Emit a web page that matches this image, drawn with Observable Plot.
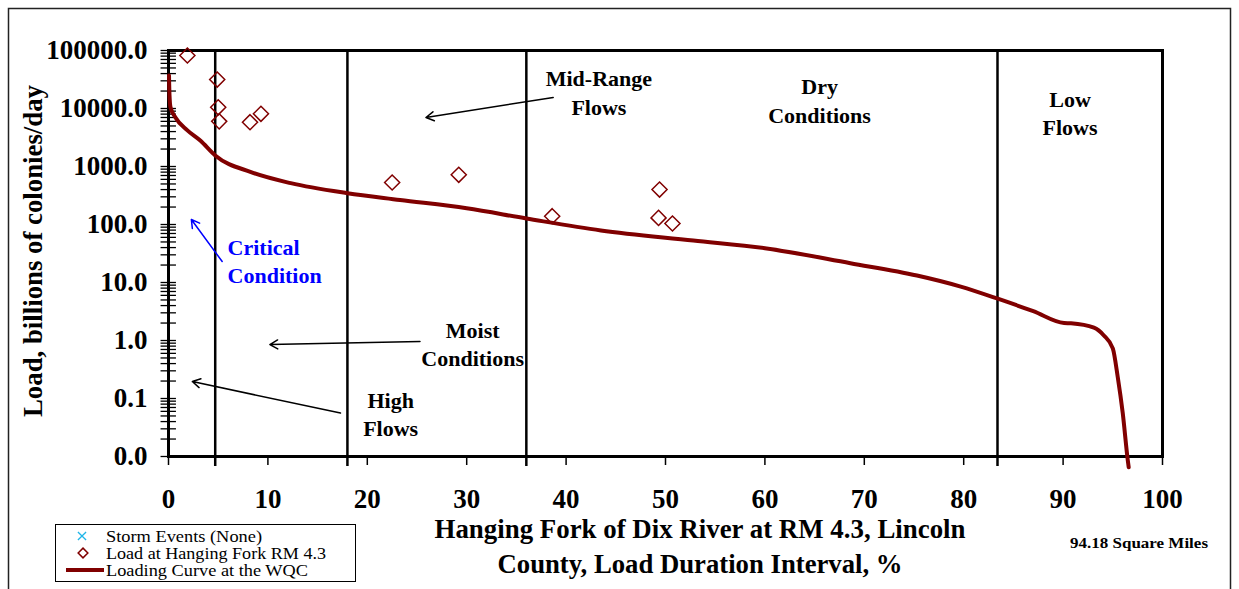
<!DOCTYPE html>
<html><head><meta charset="utf-8">
<script src="https://cdn.jsdelivr.net/npm/d3@7"></script>
<script src="https://cdn.jsdelivr.net/npm/@observablehq/plot@0.6"></script>
<style>body{margin:0;background:#fff} #chart{width:1239px;height:589px}</style>
</head><body><div id="chart"></div>
<script>
// Loading curve at the WQC (duration interval %, load)
const curvePct  = [0.05, 0.1, 0.2, 0.7, 1.9, 3.2, 4.7, 8.3, 12.3, 18, 23.3, 30, 36, 43.5, 52.8, 60, 68.6, 75.3, 79.7, 83.5, 87, 90.1, 90.8, 93.1, 94.1, 95.0, 95.5, 96.0, 96.5, 96.6];
const curveLoad = [37000, 17000, 10500, 7000, 4200, 2800, 1550, 800, 516, 347, 265, 190, 127, 79, 53, 39, 21.5, 13.2, 8.5, 5.2, 3.2, 2.0, 1.98, 1.66, 1.22, 0.73, 0.233, 0.056, 0.0088, 0.0065];
// Load at Hanging Fork RM 4.3 (samples)
const samplePct  = [1.9, 4.9, 5.0, 5.1, 8.2, 9.3, 22.5, 29.2, 38.6, 49.4, 49.3, 50.7];
const sampleLoad = [82000, 31600, 10500, 6000, 5800, 8100, 530, 720, 139, 400, 130, 104];
// Flow zone boundaries
const zoneBounds = [4.7, 18, 36, 83.4];
// Ticks
const yTickValues = [0.01, 0.1, 1, 10, 100, 1000, 10000, 100000];
const xTickValues = [0, 10, 20, 30, 40, 50, 60, 70, 80, 90, 100];
// Annotations
const noteText  = ["Mid-Range\nFlows", "Dry\nConditions", "Low\nFlows", "Critical\nCondition", "Moist\nConditions", "High\nFlows"];
const noteX     = [43.3, 65.5, 90.7, 5.94, 30.6, 22.35];
const noteY     = [19600, 14300, 8700, 24.4, 0.906, 0.0562];
const noteAnchor= ["middle", "middle", "middle", "start", "middle", "middle"];
const noteColor = ["black", "black", "black", "#0000ff", "black", "black"];
const arrowX1 = [38.7, 5.4, 25.3, 17.3];
const arrowY1 = [15500, 23, 0.96, 0.056];
const arrowX2 = [25.9, 2.3, 10.2, 2.4];
const arrowY2 = [7000, 122, 0.85, 0.196];
const arrowColor = ["black", "#0000ff", "black", "black"];
const legendLabels = ["Storm Events (None)", "Load at Hanging Fork RM 4.3", "Loading Curve at the WQC"];
const legendWidths = [156, 220, 202];
const xTitle = ["Hanging Fork of Dix River at RM 4.3, Lincoln", "County, Load Duration Interval, %"];
const yTitle = "Load, billions of colonies/day";
const areaNote = "94.18 Square Miles";

const curve = curvePct.map((x, i) => ({x, y: curveLoad[i]}));
const samples = samplePct.map((x, i) => ({x, y: sampleLoad[i]}));
const notes = noteText.map((t, i) => ({t, x: noteX[i], y: noteY[i], a: noteAnchor[i], c: noteColor[i]}));
const arrows = arrowX1.map((x1, i) => ({x1, y1: arrowY1[i], x2: arrowX2[i], y2: arrowY2[i], c: arrowColor[i]}));
const yTicksAll = [];
for (let i = 0; i < yTickValues.length - 1; i++) for (let k = 1; k <= 9; k++) yTicksAll.push(yTickValues[i] * k);
yTicksAll.push(yTickValues[yTickValues.length - 1]);

const FONT = "'Liberation Serif', 'Times New Roman', serif";
const RED = "#800000";
const noteOpts = {x: "x", y: "y", text: "t", fill: "c", fontSize: 22, fontWeight: "bold", lineHeight: 1.3, lineAnchor: "middle"};

const plot = Plot.plot({
  width: 1239, height: 589,
  marginLeft: 168, marginRight: 77, marginTop: 50, marginBottom: 133,
  x: {domain: [0, 100]},
  y: {type: "log", domain: [0.01, 100000]},
  style: {fontFamily: FONT, background: "white", color: "black", overflow: "visible"},
  marks: [
    Plot.ruleX(zoneBounds, {y1: 100000, y2: 0.0067, stroke: "black", strokeWidth: 2.5}),
    Plot.ruleY(yTicksAll, {x1: -0.75, x2: 0.8, stroke: "black", strokeWidth: 1.3}),
    Plot.axisY({ticks: yTickValues, tickFormat: d => d.toFixed(1), tickSize: 0, tickPadding: 21, fontSize: 27, fontWeight: "bold", label: null}),
    Plot.axisX({ticks: xTickValues, tickFormat: d => String(d), tickSize: 9, tickPadding: 23, fontSize: 27, fontWeight: "bold", strokeWidth: 1.5, label: null}),
    Plot.frame({stroke: "black", strokeWidth: 3}),
    Plot.line(curve, {x: "x", y: "y", stroke: RED, strokeWidth: 4, curve: "monotone-x"}),
    Plot.dot(samples, {x: "x", y: "y", symbol: "diamond2", r: 6.8, stroke: RED, fill: "none", strokeWidth: 1.5}),
    Plot.text(notes.filter(d => d.a === "middle"), {...noteOpts, textAnchor: "middle"}),
    Plot.text(notes.filter(d => d.a === "start"), {...noteOpts, textAnchor: "start"}),
    Plot.arrow(arrows, {x1: "x1", y1: "y1", x2: "x2", y2: "y2", stroke: "c", strokeWidth: 1.5, headLength: 9})
  ]
});
document.getElementById("chart").append(plot);

const svg = d3.select(plot);
// outer border
svg.append("rect").attr("x", 8.5).attr("y", 8.5).attr("width", 1222).attr("height", 600)
  .attr("fill", "none").attr("stroke", "#222").attr("stroke-width", 1.5);
// y title
svg.append("text").attr("transform", "translate(42,251) rotate(-90)")
  .attr("text-anchor", "middle").attr("font-family", FONT).attr("font-weight", "bold")
  .attr("font-size", 27).attr("textLength", 332).attr("lengthAdjust", "spacingAndGlyphs").text(yTitle);
// x title
const xtl = [{t: xTitle[0], y: 538, w: 531}, {t: xTitle[1], y: 573, w: 405}];
xtl.forEach(d => svg.append("text").attr("x", 700).attr("y", d.y).attr("text-anchor", "middle")
  .attr("font-family", FONT).attr("font-weight", "bold").attr("font-size", 26.5)
  .attr("textLength", d.w).attr("lengthAdjust", "spacingAndGlyphs").text(d.t));
// area note
svg.append("text").attr("x", 1070).attr("y", 548).attr("text-anchor", "start").attr("font-family", FONT).attr("font-weight", "bold")
  .attr("font-size", 15).attr("textLength", 138).attr("lengthAdjust", "spacingAndGlyphs").text(areaNote);
// legend
const lg = svg.append("g").attr("font-family", FONT).attr("font-weight", "normal").attr("font-size", 17).attr("text-anchor", "start");
lg.append("rect").attr("x", 55.5).attr("y", 524.5).attr("width", 300).attr("height", 57)
  .attr("fill", "white").attr("stroke", "black").attr("stroke-width", 1);
const rowY = [536, 553, 570];
lg.append("path").attr("transform", `translate(82,${rowY[0]})`)
  .attr("d", d3.symbol(d3.symbolTimes, 45)()).attr("stroke", "#1fb5e8").attr("stroke-width", 1.3).attr("fill", "none");
lg.append("path").attr("transform", `translate(83,${rowY[1]})`)
  .attr("d", d3.symbol(d3.symbolDiamond2, 60)()).attr("stroke", RED).attr("stroke-width", 1.5).attr("fill", "none");
lg.append("line").attr("x1", 66).attr("x2", 104).attr("y1", rowY[2]).attr("y2", rowY[2])
  .attr("stroke", RED).attr("stroke-width", 4);
legendLabels.forEach((t, i) => lg.append("text").attr("x", 106).attr("y", rowY[i]).attr("dy", "0.33em")
  .attr("textLength", legendWidths[i]).attr("lengthAdjust", "spacingAndGlyphs").text(t));
</script>
</body></html>
